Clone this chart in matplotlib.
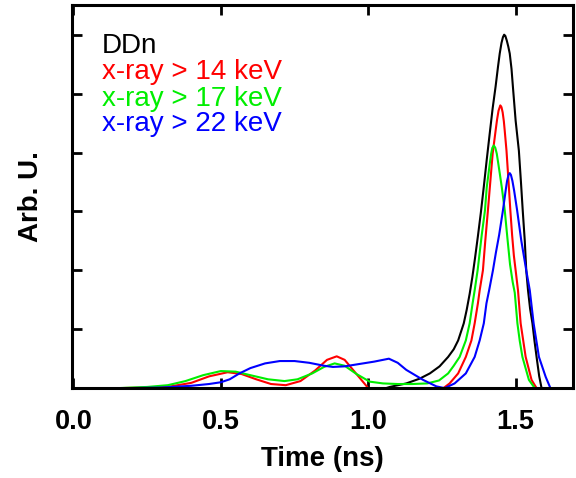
import numpy as np
import matplotlib
matplotlib.use('Agg')
import matplotlib.pyplot as plt

plt.rcParams['font.family'] = ['Liberation Sans', 'DejaVu Sans']

# DDn neutron signal
ddn_t = [1.06, 1.073, 1.129, 1.174, 1.209, 1.242, 1.271, 1.290, 1.305, 1.324, 1.334,
         1.344, 1.353, 1.362, 1.372, 1.382, 1.392, 1.402, 1.412, 1.422, 1.432, 1.440,
         1.446, 1.452, 1.457, 1.461, 1.465, 1.470, 1.475, 1.480, 1.486, 1.491, 1.500,
         1.511, 1.518, 1.524, 1.531, 1.536, 1.542, 1.549, 1.557, 1.564, 1.571,
         1.580, 1.588]
ddn_y = [0.0, 0.02, 0.08, 0.16, 0.25, 0.37, 0.53, 0.66, 0.81, 1.10, 1.33,
         1.60, 1.88, 2.2, 2.58, 2.98, 3.42, 3.88, 4.32, 4.75, 5.12, 5.45,
         5.68, 5.86, 5.96, 6.0, 5.98, 5.90, 5.80, 5.68, 5.42, 5.10, 4.54,
         4.03, 3.5, 3.02, 2.5, 2.0, 1.66, 1.35, 1.10, 0.8, 0.53,
         0.2, 0.0]

# x-ray > 14 keV
x14_t = [0.15, 0.25, 0.33, 0.40, 0.46, 0.523, 0.57, 0.62, 0.67, 0.72, 0.77, 0.82,
         0.86, 0.893, 0.92, 0.95, 0.98, 1.0, 1.03, 1.1, 1.2, 1.255,
         1.276, 1.305, 1.331, 1.350, 1.361, 1.372, 1.378, 1.389, 1.397, 1.406,
         1.414, 1.422, 1.432, 1.437, 1.442, 1.448, 1.452, 1.456, 1.460, 1.463,
         1.469, 1.476, 1.482, 1.488, 1.494, 1.500, 1.508, 1.517, 1.534, 1.554, 1.571]
x14_y = [0.0, 0.01, 0.03, 0.09, 0.2, 0.27, 0.24, 0.15, 0.07, 0.05, 0.12, 0.3,
         0.48, 0.54, 0.48, 0.3, 0.12, 0.0, -0.08, -0.1, -0.05, 0.0,
         0.08, 0.25, 0.53, 0.81, 1.10, 1.44, 1.66, 2.0, 2.5, 3.02,
         3.5, 3.98, 4.37, 4.56, 4.71, 4.80, 4.77, 4.68, 4.53, 4.37,
         4.03, 3.5, 3.02, 2.6, 2.25, 2.0, 1.66, 1.10, 0.53, 0.14, 0.0]

# x-ray > 17 keV
x17_t = [0.15, 0.25, 0.32, 0.38, 0.44, 0.50, 0.55, 0.60, 0.66, 0.716, 0.76, 0.81,
         0.85, 0.886, 0.92, 0.96, 1.005, 1.05, 1.10, 1.15, 1.20, 1.24, 1.271,
         1.290, 1.310, 1.331, 1.344, 1.354, 1.361, 1.371, 1.385, 1.396, 1.402,
         1.412, 1.417, 1.421, 1.426, 1.431, 1.436, 1.44, 1.446, 1.453, 1.463,
         1.472, 1.481, 1.490, 1.497, 1.506, 1.514, 1.523, 1.545, 1.565]
x17_y = [0.0, 0.02, 0.05, 0.12, 0.22, 0.29, 0.28, 0.22, 0.15, 0.12, 0.15, 0.25,
         0.36, 0.42, 0.38, 0.24, 0.11, 0.08, 0.07, 0.07, 0.08, 0.13, 0.25,
         0.38, 0.53, 0.81, 1.10, 1.44, 1.66, 2.0, 2.6, 3.02, 3.41,
         3.8, 3.98, 4.08, 4.12, 4.08, 3.98, 3.85, 3.65, 3.41, 3.02,
         2.55, 2.1, 1.8, 1.62, 1.10, 0.80, 0.53, 0.14, 0.0]

# x-ray > 22 keV
x22_t = [0.18, 0.30, 0.40, 0.46, 0.50, 0.53, 0.563, 0.60, 0.65, 0.70, 0.75, 0.80,
         0.85, 0.88, 0.92, 0.97, 1.02, 1.07, 1.10, 1.129, 1.186, 1.231, 1.259,
         1.293, 1.331, 1.361, 1.378, 1.392, 1.401, 1.410, 1.423, 1.433, 1.444,
         1.457, 1.466, 1.471, 1.476, 1.480, 1.484, 1.489, 1.495, 1.505, 1.519,
         1.536, 1.548, 1.561, 1.579, 1.602, 1.618]
x22_y = [0.0, 0.01, 0.04, 0.07, 0.1, 0.15, 0.25, 0.34, 0.42, 0.46, 0.46, 0.43,
         0.38, 0.36, 0.37, 0.41, 0.45, 0.50, 0.43, 0.31, 0.14, 0.03, 0.0,
         0.08, 0.25, 0.53, 0.81, 1.10, 1.44, 1.66, 2.0, 2.3, 2.6,
         3.02, 3.35, 3.52, 3.62, 3.65, 3.62, 3.52, 3.35, 3.02, 2.51,
         2.0, 1.66, 1.10, 0.53, 0.19, 0.0]

series = [(ddn_t, ddn_y, 'black', 'DDn'),
          (x14_t, x14_y, 'red', 'x-ray > 14 keV'),
          (x17_t, x17_y, '#00ee00', 'x-ray > 17 keV'),
          (x22_t, x22_y, 'blue', 'x-ray > 22 keV')]

fig = plt.figure(figsize=(5.76, 4.78), dpi=100)
ax = fig.add_axes([0.125, 0.188, 0.870, 0.801])

for t, y, c, lab in series:
    ax.plot(t, y, color=c, lw=1.5)

ax.set_xlim(-0.005, 1.695)
ax.set_ylim(0, 6.5)
ax.set_xticks([0.0, 0.5, 1.0, 1.5])
ax.set_xticklabels(['0.0', '0.5', '1.0', '1.5'])
ax.set_yticks([0, 1, 2, 3, 4, 5, 6])
ax.set_yticklabels([])
ax.tick_params(direction='in', length=7, width=2, top=True, right=True,
               labelsize=19.5, pad=15)
for lab in ax.get_xticklabels():
    lab.set_fontweight('bold')
for s in ax.spines.values():
    s.set_linewidth(2.2)

ax.set_xlabel('Time (ns)', fontsize=20, fontweight='bold', labelpad=8)
ax.set_ylabel('Arb. U.', fontsize=20, fontweight='bold', labelpad=5)

ys = [0.875, 0.807, 0.738, 0.671]
for (t, y, c, lab), yy in zip(series, ys):
    ax.text(0.06, yy, lab, color=c, fontsize=20, transform=ax.transAxes,
            va='baseline', ha='left')

fig.savefig('out.png', dpi=100)
